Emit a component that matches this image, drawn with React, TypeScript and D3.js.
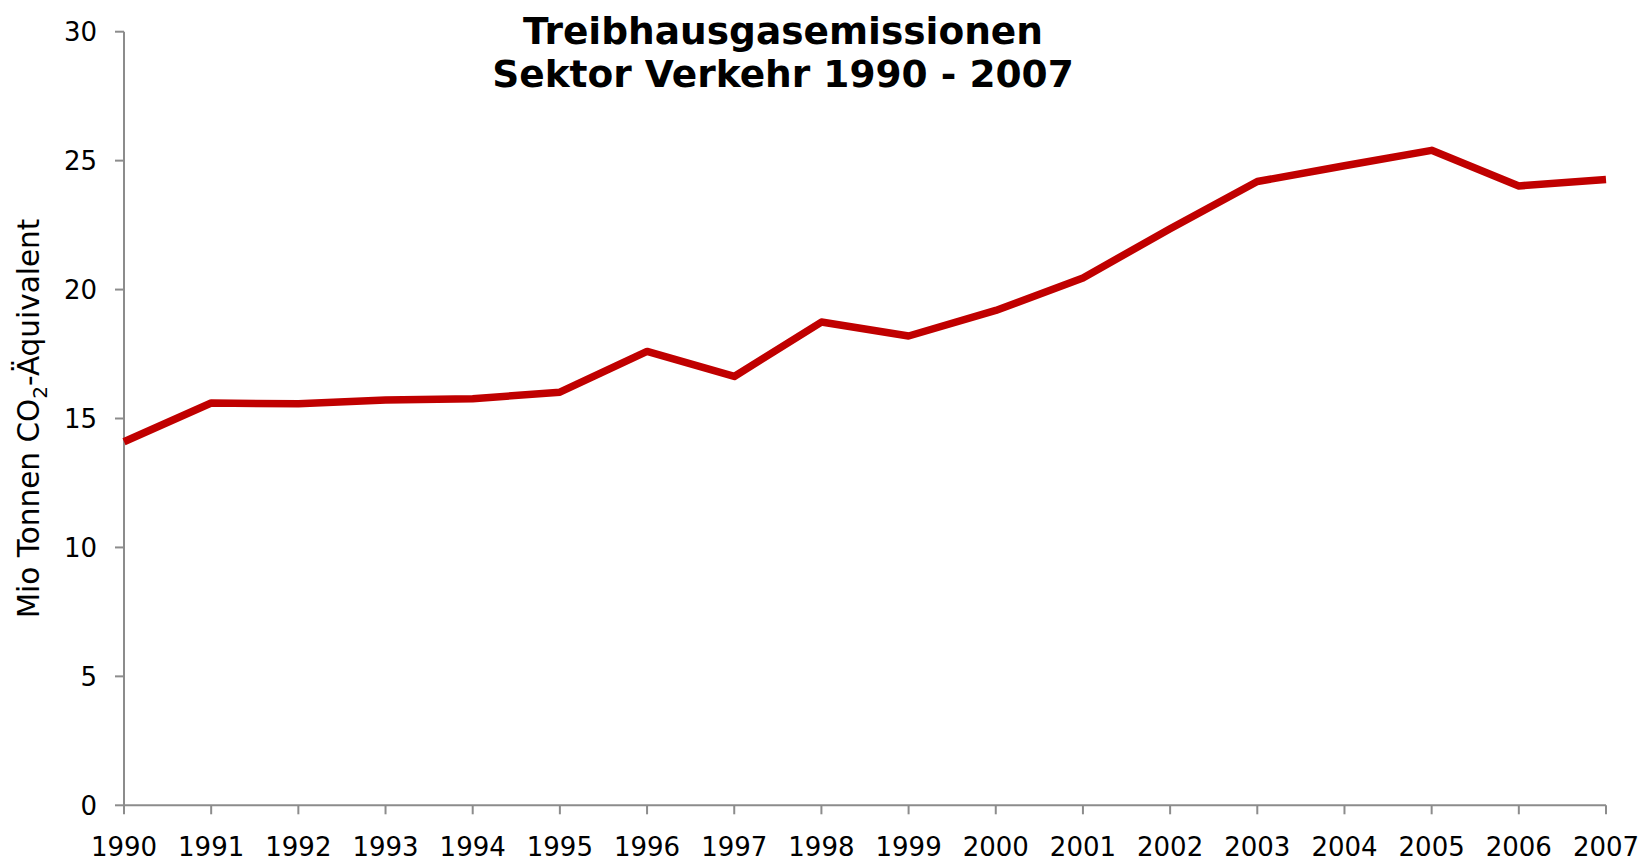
import React, { useEffect } from "react";
import { scaleLinear, scalePoint, line } from "d3";

// values
const years = ["1990", "1991", "1992", "1993", "1994", "1995", "1996", "1997", "1998", "1999", "2000", "2001", "2002", "2003", "2004", "2005", "2006", "2007"];
const emissions = [14.1, 15.6, 15.57, 15.72, 15.77, 16.02, 17.6, 16.63, 18.74, 18.2, 19.19, 20.45, 22.36, 24.19, 24.8, 25.4, 24.02, 24.27];
const yTicks = [0, 5, 10, 15, 20, 25, 30];
const titleLines = ["Treibhausgasemissionen", "Sektor Verkehr 1990 - 2007"];

const W = 1642;
const H = 861;
const left = 124;
const right = 1606;
const top = 31.7;
const bottom = 805.3;

const App = () => {
  useEffect(() => {
    document.body.style.margin = "0";
  }, []);

  const x = scalePoint<string>().domain(years).range([left, right]);
  const y = scaleLinear().domain([0, 30]).range([bottom, top]);

  const path = line<number>()
    .x((d, i) => x(years[i]) as number)
    .y((d) => y(d));

  const font = "'DejaVu Sans', Verdana, sans-serif";
  const axisColor = "#8c8c8c";

  return (
    <svg width={W} height={H} style={{ display: "block" }} fontFamily={font}>
      <rect width={W} height={H} fill="#fff" />

      {/* title */}
      {titleLines.map((t, i) => (
        <text key={t} x={783} y={44 + i * 43} textAnchor="middle" fontSize={37.5} fontWeight="bold" fill="#000">
          {t}
        </text>
      ))}

      {/* y axis */}
      <line x1={left} x2={left} y1={top} y2={bottom} stroke={axisColor} strokeWidth={2} />
      {yTicks.map((t) => (
        <g key={t}>
          <line x1={left - 9} x2={left} y1={y(t)} y2={y(t)} stroke={axisColor} strokeWidth={2} />
          <text x={97} y={y(t)} dy="0.36em" textAnchor="end" fontSize={26} fill="#000">
            {t}
          </text>
        </g>
      ))}

      {/* x axis */}
      <line x1={left} x2={right} y1={bottom} y2={bottom} stroke={axisColor} strokeWidth={2} />
      {years.map((yr) => (
        <g key={yr}>
          <line x1={x(yr)} x2={x(yr)} y1={bottom} y2={bottom + 9} stroke={axisColor} strokeWidth={2} />
          <text x={x(yr)} y={856} textAnchor="middle" fontSize={26} fill="#000">
            {yr}
          </text>
        </g>
      ))}

      {/* y label */}
      <text transform={`translate(39, ${(top + bottom) / 2}) rotate(-90)`} textAnchor="middle" fontSize={29.5} fill="#000">
        Mio Tonnen CO
        <tspan fontSize={20} dy={8}>2</tspan>
        <tspan dy={-8}>-Äquivalent</tspan>
      </text>

      {/* data line */}
      <path d={path(emissions) ?? ""} fill="none" stroke="#c00000" strokeWidth={7.5} strokeLinejoin="round" strokeLinecap="butt" />
    </svg>
  );
};

export default App;
